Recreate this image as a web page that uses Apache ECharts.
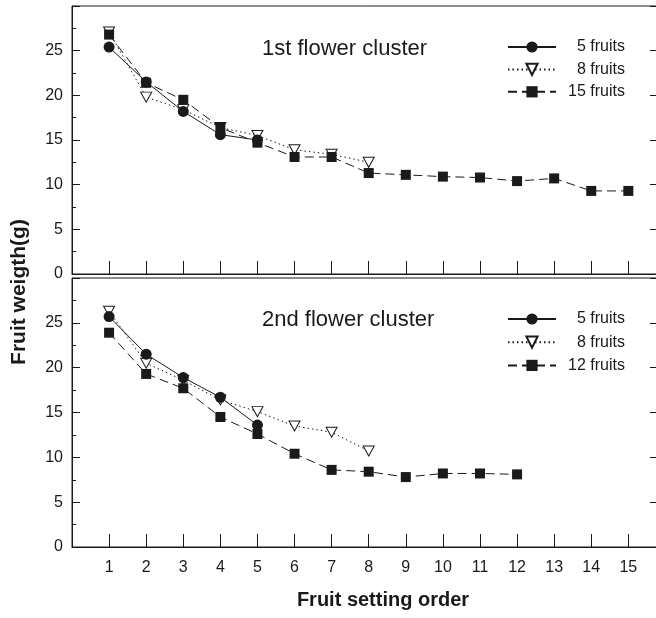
<!DOCTYPE html>
<html>
<head>
<meta charset="utf-8">
<script src="https://cdn.jsdelivr.net/npm/echarts@6/dist/echarts.min.js"></script>
<style>html,body{margin:0;padding:0;background:#fff}#c{width:656px;height:618px}</style>
</head>
<body>
<div id="c"></div>
<script>
// Fruit setting order (x values)
const order = [1,2,3,4,5,6,7,8,9,10,11,12,13,14,15];
const xTickLabels = ['1','2','3','4','5','6','7','8','9','10','11','12','13','14','15'];
const yTickLabels = ['0','5','10','15','20','25'];
// 1st flower cluster
const top5  = [25.4, 21.5, 18.2, 15.6, 15.0];
const top8  = [27.1, 19.8, 18.4, 16.4, 15.5, 13.9, 13.4, 12.5];
const top15 = [26.8, 21.4, 19.5, 16.4, 14.7, 13.1, 13.1, 11.3, 11.1, 10.9, 10.8, 10.4, 10.7, 9.3, 9.3];
// 2nd flower cluster
const bot5  = [25.7, 21.5, 18.9, 16.7, 13.6];
const bot8  = [26.3, 20.5, 18.6, 16.4, 15.1, 13.5, 12.8, 10.7];
const bot12 = [23.9, 19.3, 17.7, 14.5, 12.6, 10.4, 8.6, 8.4, 7.8, 8.2, 8.2, 8.1];

const FONT = "'Liberation Sans', Arial, sans-serif";
const INK = '#1a1a1a';
const pairs = v => v.map((y, i) => [order[i], y]);
const triPath = 'path://M0,0 L10,0 L5,9 Z';

function xAxisCfg(gi, showLabels) {
  return {
    type: 'value', gridIndex: gi, min: 0, max: 15.8, interval: 1,
    axisLine: { show: true, lineStyle: { color: INK, width: 1 } },
    axisTick: { show: true, inside: true, length: 13, lineStyle: { color: INK } },
    axisLabel: {
      show: showLabels, margin: 13, color: INK, fontSize: 16, fontFamily: FONT,
      formatter: v => (Number.isInteger(v) && v >= 1 && v <= 15) ? xTickLabels[v - 1] : ''
    },
    splitLine: { show: false }
  };
}
function yAxisLeft(gi) {
  return {
    type: 'value', gridIndex: gi, min: 0, max: 30, interval: 5, position: 'left',
    axisLine: { show: true, lineStyle: { color: INK, width: 1 } },
    axisTick: { show: true, inside: true, length: 8, lineStyle: { color: INK } },
    minorTick: { show: true, splitNumber: 2, length: 4, lineStyle: { color: INK } },
    axisLabel: { margin: 9, color: INK, fontSize: 16, fontFamily: FONT,
      formatter: v => { const i = yTickLabels.indexOf(String(v)); return i >= 0 ? yTickLabels[i] : ''; } },
    splitLine: { show: false }, minorSplitLine: { show: false }
  };
}
function yAxisRight(gi) {
  return {
    type: 'value', gridIndex: gi, min: 0, max: 30, interval: 5, position: 'right',
    axisLine: { show: true, lineStyle: { color: INK, width: 1 } },
    axisTick: { show: true, inside: true, length: 8, lineStyle: { color: INK } },
    axisLabel: { show: false }, splitLine: { show: false }
  };
}
function circleSeries(name, data, xi, yi) {
  return { name, type: 'line', xAxisIndex: xi, yAxisIndex: yi, data: pairs(data), z: 4,
    symbol: 'circle', symbolSize: 11, itemStyle: { color: INK },
    lineStyle: { color: INK, width: 1, type: 'solid' }, animation: false };
}
function triSeries(name, data, xi, yi) {
  return { name, type: 'line', xAxisIndex: xi, yAxisIndex: yi, data: pairs(data), z: 2,
    symbol: triPath, symbolSize: [11, 10], symbolKeepAspect: false,
    itemStyle: { color: '#fff', borderColor: INK, borderWidth: 1 },
    lineStyle: { color: INK, width: 1, type: [1.5, 3] }, animation: false };
}
function sqSeries(name, data, xi, yi) {
  return { name, type: 'line', xAxisIndex: xi, yAxisIndex: yi, data: pairs(data), z: 3,
    symbol: 'rect', symbolSize: 10, itemStyle: { color: INK },
    lineStyle: { color: INK, width: 1, type: [9, 5] }, animation: false };
}
function legendCfg(names, top, gap) {
  return {
    data: names, orient: 'vertical', left: 507, top, itemWidth: 48, itemHeight: 14, itemGap: gap,
    selectedMode: false, padding: 0,
    formatter: n => '{a|' + n.trim() + '}',
    textStyle: { color: INK, fontSize: 16, fontFamily: FONT,
      rich: { a: { width: 64, align: 'right', fontSize: 16, fontFamily: FONT, color: INK } } }
  };
}

const chart = echarts.init(document.getElementById('c'), null, { renderer: 'canvas' });
chart.setOption({
  animation: false,
  backgroundColor: '#fff',
  grid: [
    { left: 72, top: 6, width: 586, height: 268, show: true, borderColor: INK, borderWidth: 1, backgroundColor: 'transparent', outerBoundsMode: 'none', containLabel: false },
    { left: 72, top: 278, width: 586, height: 269, show: true, borderColor: INK, borderWidth: 1, backgroundColor: 'transparent', outerBoundsMode: 'none', containLabel: false }
  ],
  xAxis: [xAxisCfg(0, false), xAxisCfg(1, true)],
  yAxis: [yAxisLeft(0), yAxisRight(0), yAxisLeft(1), yAxisRight(1)],
  title: [
    { text: '1st flower cluster', left: 257, top: 33, textStyle: { color: INK, fontSize: 22, fontWeight: 'normal', fontFamily: FONT } },
    { text: '2nd flower cluster', left: 257, top: 304, textStyle: { color: INK, fontSize: 22, fontWeight: 'normal', fontFamily: FONT } }
  ],
  legend: [
    legendCfg(['5 fruits', '8 fruits', '15 fruits'], 39, 6.4),
    legendCfg(['5 fruits ', '8 fruits ', '12 fruits'], 311, 7.2)
  ],
  graphic: [
    { type: 'text', x: 383, y: 600, style: { text: 'Fruit setting order', fill: INK, font: "bold 20px 'Liberation Sans', Arial, sans-serif", textAlign: 'center', textVerticalAlign: 'middle' } },
    { type: 'text', x: 19, y: 292, rotation: Math.PI / 2, style: { text: 'Fruit weigth(g)', fill: INK, font: "bold 21px 'Liberation Sans', Arial, sans-serif", textAlign: 'center', textVerticalAlign: 'middle' } }
  ],
  series: [
    triSeries('8 fruits', top8, 0, 0),
    sqSeries('15 fruits', top15, 0, 0),
    circleSeries('5 fruits', top5, 0, 0),
    triSeries('8 fruits ', bot8, 1, 2),
    sqSeries('12 fruits', bot12, 1, 2),
    circleSeries('5 fruits ', bot5, 1, 2)
  ]
});
</script>
</body>
</html>
